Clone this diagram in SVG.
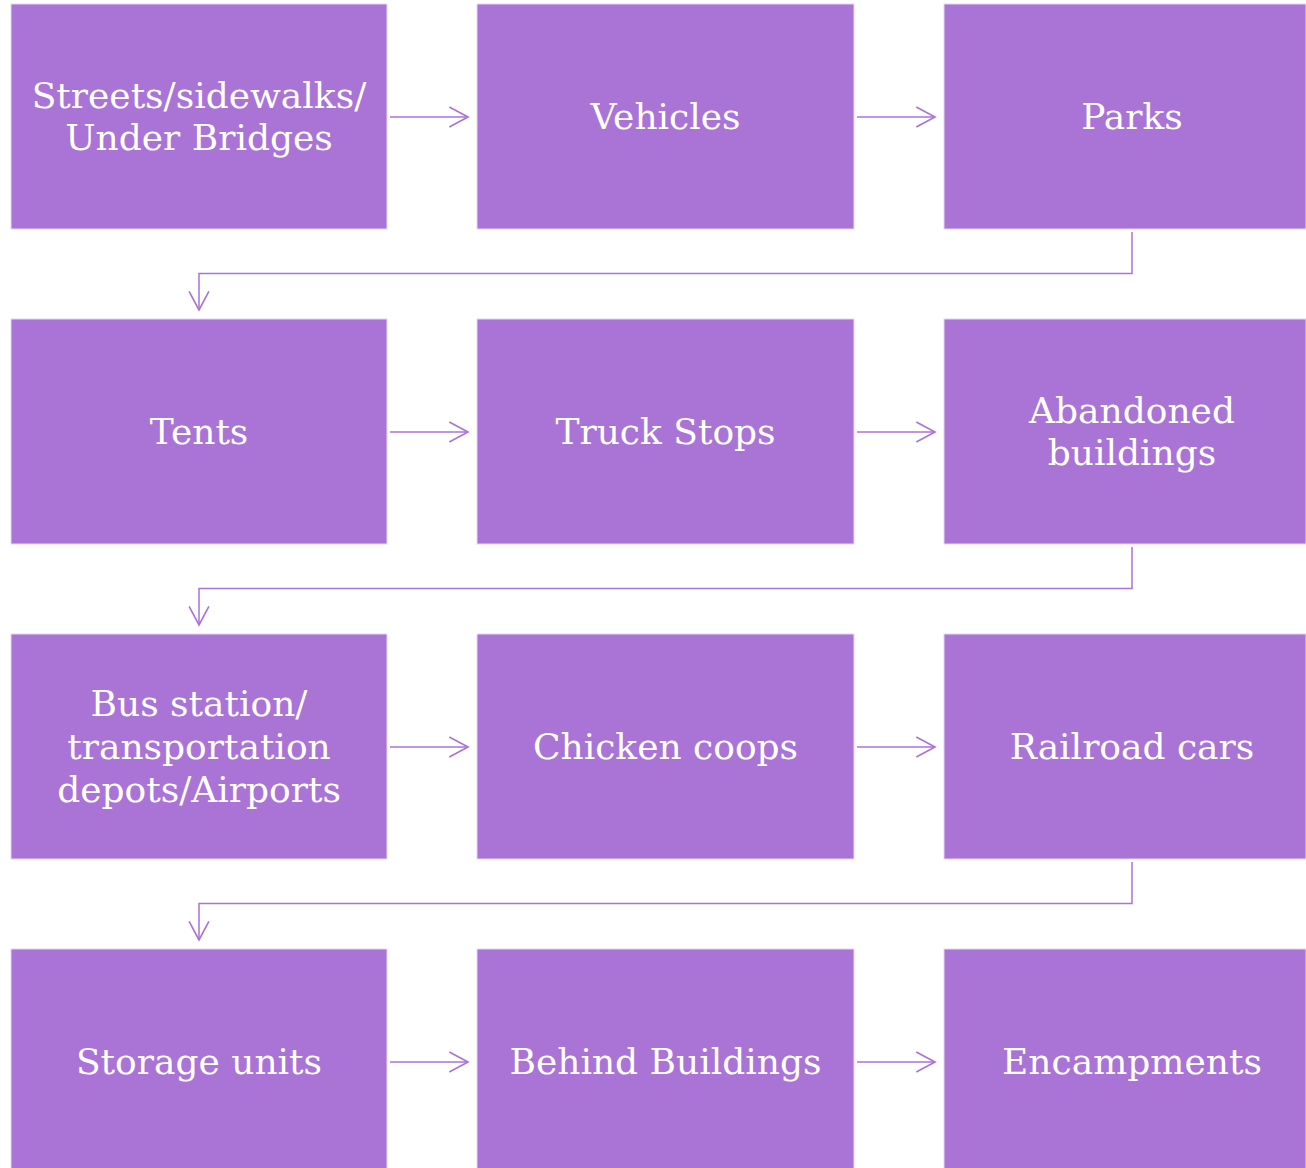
<svg xmlns="http://www.w3.org/2000/svg" width="1306" height="1168" viewBox="0 0 1306 1168">
<defs>
<style>
.box{fill:#A974D6;stroke:#E6D6F3;stroke-width:1}
.lbl{fill:#FFFFFF;font-family:"DejaVu Serif","Liberation Serif",serif;font-size:36px;text-anchor:middle;dominant-baseline:central}
.conn{fill:none;stroke:#A974D6;stroke-width:1.5}
</style>
<marker id="ah" markerWidth="22" markerHeight="22" viewBox="-18 -10 20 20" refX="0" refY="0" orient="auto" markerUnits="userSpaceOnUse">
<path d="M-17,-9 L0,0 L-17,9" fill="none" stroke="#A974D6" stroke-width="1.5"/>
</marker>
</defs>
<rect width="1306" height="1168" fill="#FFFFFF"/>
<g id="n1"><rect class="box" x="11" y="4" width="376" height="225"/><text class="lbl" x="199" y="95">Streets/sidewalks/</text><text class="lbl" x="199" y="137">Under Bridges</text></g>
<g id="n2"><rect class="box" x="477" y="4" width="377" height="225"/><text class="lbl" x="665.5" y="116">Vehicles</text></g>
<g id="n3"><rect class="box" x="944" y="4" width="362" height="225"/><text class="lbl" x="1132" y="116">Parks</text></g>
<g id="n4"><rect class="box" x="11" y="319" width="376" height="225"/><text class="lbl" x="199" y="431">Tents</text></g>
<g id="n5"><rect class="box" x="477" y="319" width="377" height="225"/><text class="lbl" x="665.5" y="431">Truck Stops</text></g>
<g id="n6"><rect class="box" x="944" y="319" width="362" height="225"/><text class="lbl" x="1132" y="410">Abandoned</text><text class="lbl" x="1132" y="452">buildings</text></g>
<g id="n7"><rect class="box" x="11" y="634" width="376" height="225"/><text class="lbl" x="199" y="703">Bus station/</text><text class="lbl" x="199" y="746">transportation</text><text class="lbl" x="199" y="789">depots/Airports</text></g>
<g id="n8"><rect class="box" x="477" y="634" width="377" height="225"/><text class="lbl" x="665.5" y="746">Chicken coops</text></g>
<g id="n9"><rect class="box" x="944" y="634" width="362" height="225"/><text class="lbl" x="1132" y="746">Railroad cars</text></g>
<g id="n10"><rect class="box" x="11" y="949" width="376" height="225"/><text class="lbl" x="199" y="1061">Storage units</text></g>
<g id="n11"><rect class="box" x="477" y="949" width="377" height="225"/><text class="lbl" x="665.5" y="1061">Behind Buildings</text></g>
<g id="n12"><rect class="box" x="944" y="949" width="362" height="225"/><text class="lbl" x="1132" y="1061">Encampments</text></g>
<g id="connectors">
<path class="conn" marker-end="url(#ah)" d="M390,117 H468"/>
<path class="conn" marker-end="url(#ah)" d="M857,117 H935"/>
<path class="conn" marker-end="url(#ah)" d="M1132,232 V273.5 H199 V310"/>
<path class="conn" marker-end="url(#ah)" d="M390,432 H468"/>
<path class="conn" marker-end="url(#ah)" d="M857,432 H935"/>
<path class="conn" marker-end="url(#ah)" d="M1132,547 V588.5 H199 V625"/>
<path class="conn" marker-end="url(#ah)" d="M390,747 H468"/>
<path class="conn" marker-end="url(#ah)" d="M857,747 H935"/>
<path class="conn" marker-end="url(#ah)" d="M1132,862 V903.5 H199 V940"/>
<path class="conn" marker-end="url(#ah)" d="M390,1062 H468"/>
<path class="conn" marker-end="url(#ah)" d="M857,1062 H935"/>
</g>
</svg>
